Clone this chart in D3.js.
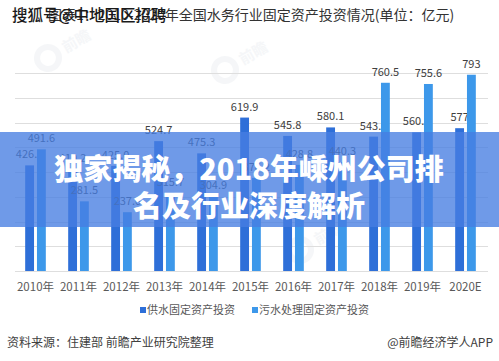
<!DOCTYPE html>
<html>
<head>
<meta charset="utf-8">
<title>water investment</title>
<script src="https://d3js.org/d3.v7.min.js"></script>
<style>
  body { margin: 0; background: #fff; }
  svg { display: block; font-family: "Noto Sans CJK SC", "Noto Sans", sans-serif; }
</style>
</head>
<body>
<div id="chart"></div>
<script>
// data (values hidden under the banner are estimates)
const years = ["2010年", "2011年", "2012年", "2013年", "2014年", "2015年", "2016年", "2017年", "2018年", "2019年", "2020E"];
const supplyValues = ["426.8", "410.2", "425.0", "524.7", "475.3", "619.9", "545.8", "580.1", "543.0", "560.1", "577"];
const sewageValues = ["491.6", "281.5", "237.6", "315.7", "304.9", "376.2", "428.8", "440.3", "760.5", "755.6", "793"];
const seriesNames = ["供水固定资产投资", "污水处理固定资产投资"];
const yTicks = [0, 100, 200, 300, 400, 500, 600, 700, 800];

const width = 499, height = 361;
const colors = { supply: "#2e6fd8", sewage: "#3d98ea" };

const svg = d3.select("#chart").append("svg")
    .attr("width", width)
    .attr("height", height);

// faint watermarks
const marks = [[48, 58], [225, 70], [300, 250]];
marks.forEach(([mx, my]) => {
    const g = svg.append("g").attr("transform", `translate(${mx},${my}) rotate(-30)`).attr("opacity", 0.5);
    g.append("circle").attr("r", 11).attr("fill", "none").attr("stroke", "#eceff3").attr("stroke-width", 6);
    g.append("text").attr("x", 18).attr("y", 5).attr("font-size", 15).attr("font-weight", 700)
        .attr("fill", "#eceff3").text("前瞻");
});

const x0 = d3.scaleBand()
    .domain(years)
    .range([14, 487])
    .paddingInner(0.52)
    .paddingOuter(0.26);

const x1 = d3.scaleBand()
    .domain(["supply", "sewage"])
    .range([0, x0.bandwidth()])
    .paddingInner(0.25);

const y = d3.scaleLinear()
    .domain([0, 800])
    .range([271, 73]);

// gridlines
svg.append("g").selectAll("line")
    .data(yTicks)
    .enter()
    .append("line")
    .attr("x1", 15)
    .attr("x2", 488)
    .attr("y1", d => Math.round(y(d)) + 0.5)
    .attr("y2", d => Math.round(y(d)) + 0.5)
    .attr("stroke", "#dedede")
    .attr("stroke-width", 1);

const rows = years.map((yr, i) => ({ year: yr, supply: supplyValues[i], sewage: sewageValues[i] }));

const groups = svg.append("g").selectAll("g")
    .data(rows)
    .enter()
    .append("g")
    .attr("transform", d => `translate(${x0(d.year)},0)`);

["supply", "sewage"].forEach(key => {
    groups.append("rect")
        .attr("x", x1(key))
        .attr("y", d => y(+d[key]))
        .attr("width", x1.bandwidth())
        .attr("height", d => y(0) - y(+d[key]))
        .attr("fill", colors[key]);

    groups.append("text")
        .attr("x", x1(key) + x1.bandwidth() / 2)
        .attr("y", d => y(+d[key]) - 7)
        .attr("text-anchor", "middle")
        .attr("font-size", 11)
        .attr("fill", "#404040")
        .text(d => d[key]);
});

// x axis labels
svg.append("g").selectAll("text")
    .data(years)
    .enter()
    .append("text")
    .attr("x", d => x0(d) + x0.bandwidth() / 2)
    .attr("y", 291)
    .attr("text-anchor", "middle")
    .attr("font-size", 11.5)
    .attr("fill", "#595959")
    .text(d => d);

// legend
const legendX = [140, 252];
seriesNames.forEach((name, i) => {
    const key = i === 0 ? "supply" : "sewage";
    svg.append("rect")
        .attr("x", legendX[i])
        .attr("y", 307)
        .attr("width", 6)
        .attr("height", 6)
        .attr("fill", colors[key]);
    svg.append("text")
        .attr("x", legendX[i] + 7)
        .attr("y", 314)
        .attr("font-size", 11)
        .attr("fill", "#595959")
        .text(name);
});

// source line
svg.append("text")
    .attr("x", 7)
    .attr("y", 347)
    .attr("font-size", 12)
    .attr("fill", "#404040")
    .text("资料来源：住建部 前瞻产业研究院整理");

svg.append("text")
    .attr("x", 493)
    .attr("y", 347)
    .attr("text-anchor", "end")
    .attr("font-size", 12)
    .attr("fill", "#404040")
    .text("@前瞻经济学人APP");

// title + watermark over it
svg.append("text")
    .attr("x", 48)
    .attr("y", 20)
    .attr("font-size", 14)
    .attr("fill", "#333")
    .text("图表1：2010-2020年全国水务行业固定资产投资情况(单位：亿元)");

svg.append("text")
    .attr("x", 12)
    .attr("y", 21)
    .attr("font-size", 15.5)
    .attr("font-weight", 500)
    .attr("fill", "#1a1a1a")
    .text("搜狐号@中地国区招聘");

// blue banner with headline
svg.append("rect")
    .attr("x", 0)
    .attr("y", 132)
    .attr("width", width)
    .attr("height", 95)
    .attr("fill", "rgb(70,125,225)")
    .attr("opacity", 0.78);

const headline = ["独家揭秘，2018年嵊州公司排", "名及行业深度解析"];
svg.append("g").selectAll("text")
    .data(headline)
    .enter()
    .append("text")
    .attr("x", 249)
    .attr("y", (d, i) => 180 + i * 37)
    .attr("text-anchor", "middle")
    .attr("font-size", 29)
    .attr("font-weight", 900)
    .attr("fill", "#fff")
    .text(d => d);
</script>
</body>
</html>
